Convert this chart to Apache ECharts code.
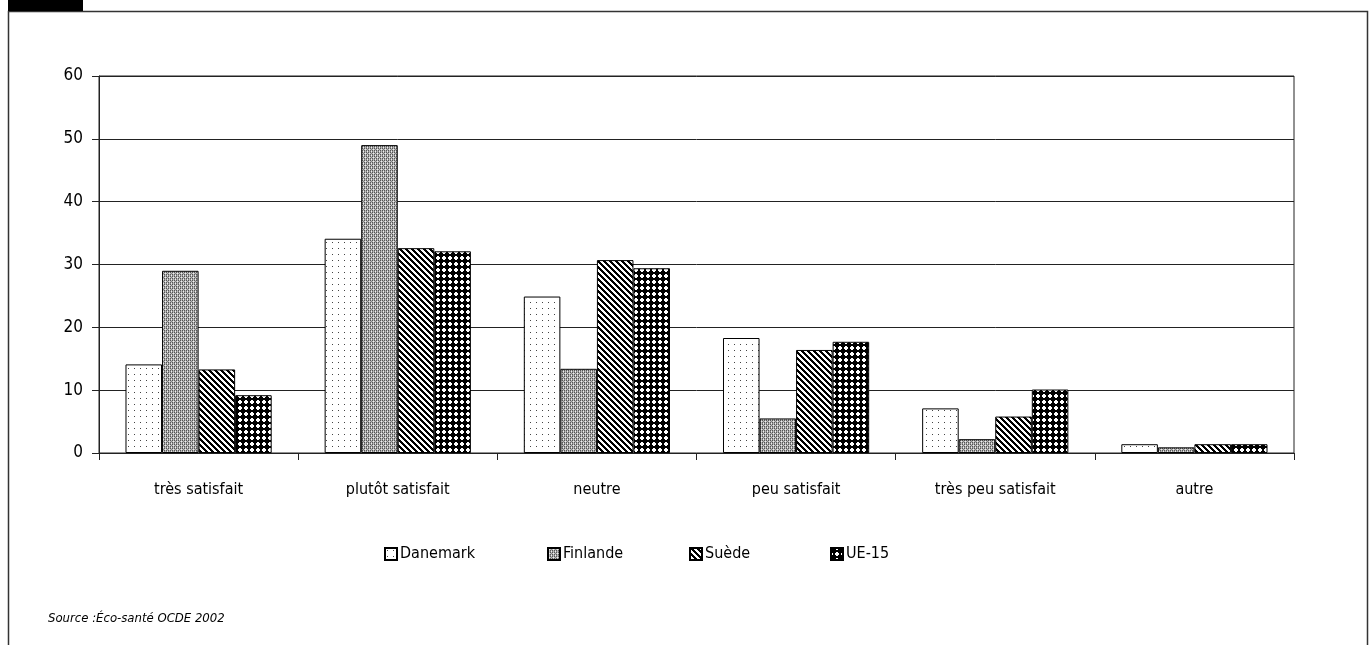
<!DOCTYPE html>
<html>
<head>
<meta charset="utf-8">
<script src="https://cdn.jsdelivr.net/npm/echarts@6/dist/echarts.min.js"></script>
<style>
  html, body { margin: 0; padding: 0; background: #fff; }
  #chart { width: 1369px; height: 645px; }
</style>
</head>
<body>
<div id="chart"></div>
<script>
// Satisfaction categories and percentages per country group
const categories = ['très satisfait', 'plutôt satisfait', 'neutre', 'peu satisfait', 'très peu satisfait', 'autre'];
const danemark = [14.1, 34.1, 24.9, 18.3, 7.1, 1.4];
const finlande = [29.0, 49.0, 13.4, 5.5, 2.2, 0.9];
const suede    = [13.3, 32.6, 30.7, 16.4, 5.8, 1.4];
const ue15     = [9.2, 32.1, 29.4, 17.7, 10.1, 1.4];
const yTicks = [0, 10, 20, 30, 40, 50, 60];

// Small monochrome fill tiles, like print-style hatching
function tile(size, painter) {
  const c = document.createElement('canvas');
  c.width = size; c.height = size;
  const ctx = c.getContext('2d');
  ctx.fillStyle = '#fff';
  ctx.fillRect(0, 0, size, size);
  for (let y = 0; y < size; y++) {
    for (let x = 0; x < size; x++) {
      const col = painter(x, y);
      if (col) { ctx.fillStyle = col; ctx.fillRect(x, y, 1, 1); }
    }
  }
  return { image: c, repeat: 'repeat' };
}

const dotFill = tile(6, (x, y) => (x === 2 && y === 2) ? '#444' : null);
const greyMap = [
  ['#555', '#bbb', '#555', '#bbb'],
  ['#bbb', '#eee', '#bbb', '#888'],
  ['#555', '#bbb', '#555', '#bbb'],
  ['#888', '#bbb', '#888', '#eee']
];
const greyFill = tile(4, (x, y) => greyMap[y][x]);
const stripeFill = tile(6, (x, y) => (((x - y) % 6 + 6) % 6 < 3) ? '#000' : null);
const diamondFill = tile(6, (x, y) => (Math.abs(x - 2.5) + Math.abs(y - 2.5) <= 3) ? '#000' : null);

const FONT = '"Liberation Sans Narrow", "DejaVu Sans Condensed", Arial, sans-serif';

function barSeries(name, data, fill) {
  return {
    name: name,
    type: 'bar',
    data: data,
    barGap: '0%',
    barCategoryGap: '26.6%',
    itemStyle: { color: fill, borderColor: '#000', borderWidth: 1 },
    emphasis: { disabled: true }
  };
}

function legendAt(name, left) {
  return {
    data: [name],
    left: left,
    top: 546,
    icon: 'rect',
    itemWidth: 12,
    itemHeight: 12,
    itemGap: 0,
    padding: 0,
    selectedMode: false,
    textStyle: { fontFamily: FONT, fontSize: 16, color: '#000', padding: [0, 0, 0, -2] }
  };
}

const chart = echarts.init(document.getElementById('chart'), null, { renderer: 'canvas' });
chart.setOption({
  animation: false,
  backgroundColor: '#fff',
  grid: {
    left: 99, right: 75, top: 76, bottom: 192,
    show: true, borderColor: '#222', borderWidth: 1, backgroundColor: 'transparent'
  },
  legend: [
    legendAt('Danemark', 384),
    legendAt('Finlande', 547),
    legendAt('Suède', 689),
    legendAt('UE-15', 830)
  ],
  xAxis: {
    type: 'category',
    data: categories,
    boundaryGap: true,
    axisLine: { lineStyle: { color: '#222', width: 1 } },
    axisTick: { show: true, length: 7, lineStyle: { color: '#222' } },
    axisLabel: { fontFamily: FONT, fontSize: 16, color: '#000', margin: 29 }
  },
  yAxis: {
    type: 'value',
    min: yTicks[0],
    max: yTicks[yTicks.length - 1],
    interval: 10,
    axisLine: { show: true, lineStyle: { color: '#222', width: 1 } },
    axisTick: { show: true, length: 7, lineStyle: { color: '#222' } },
    axisLabel: { fontFamily: FONT, fontSize: 17, color: '#000', margin: 16 },
    splitLine: { show: true, lineStyle: { color: '#222', width: 1 } }
  },
  series: [
    barSeries('Danemark', danemark, dotFill),
    barSeries('Finlande', finlande, greyFill),
    barSeries('Suède', suede, stripeFill),
    barSeries('UE-15', ue15, diamondFill)
  ],
  graphic: [
    { type: 'rect', shape: { x: 8.5, y: 11.5, width: 1359, height: 700 },
      style: { fill: 'none', stroke: '#333', lineWidth: 1.5 }, silent: true },
    { type: 'rect', shape: { x: 8, y: 0, width: 75, height: 11 },
      style: { fill: '#000' }, silent: true },
    { type: 'text', left: 48, top: 612,
      style: { text: 'Source :Éco-santé OCDE 2002', font: 'italic 13px ' + FONT, fill: '#000' } }
  ]
});
</script>
</body>
</html>
